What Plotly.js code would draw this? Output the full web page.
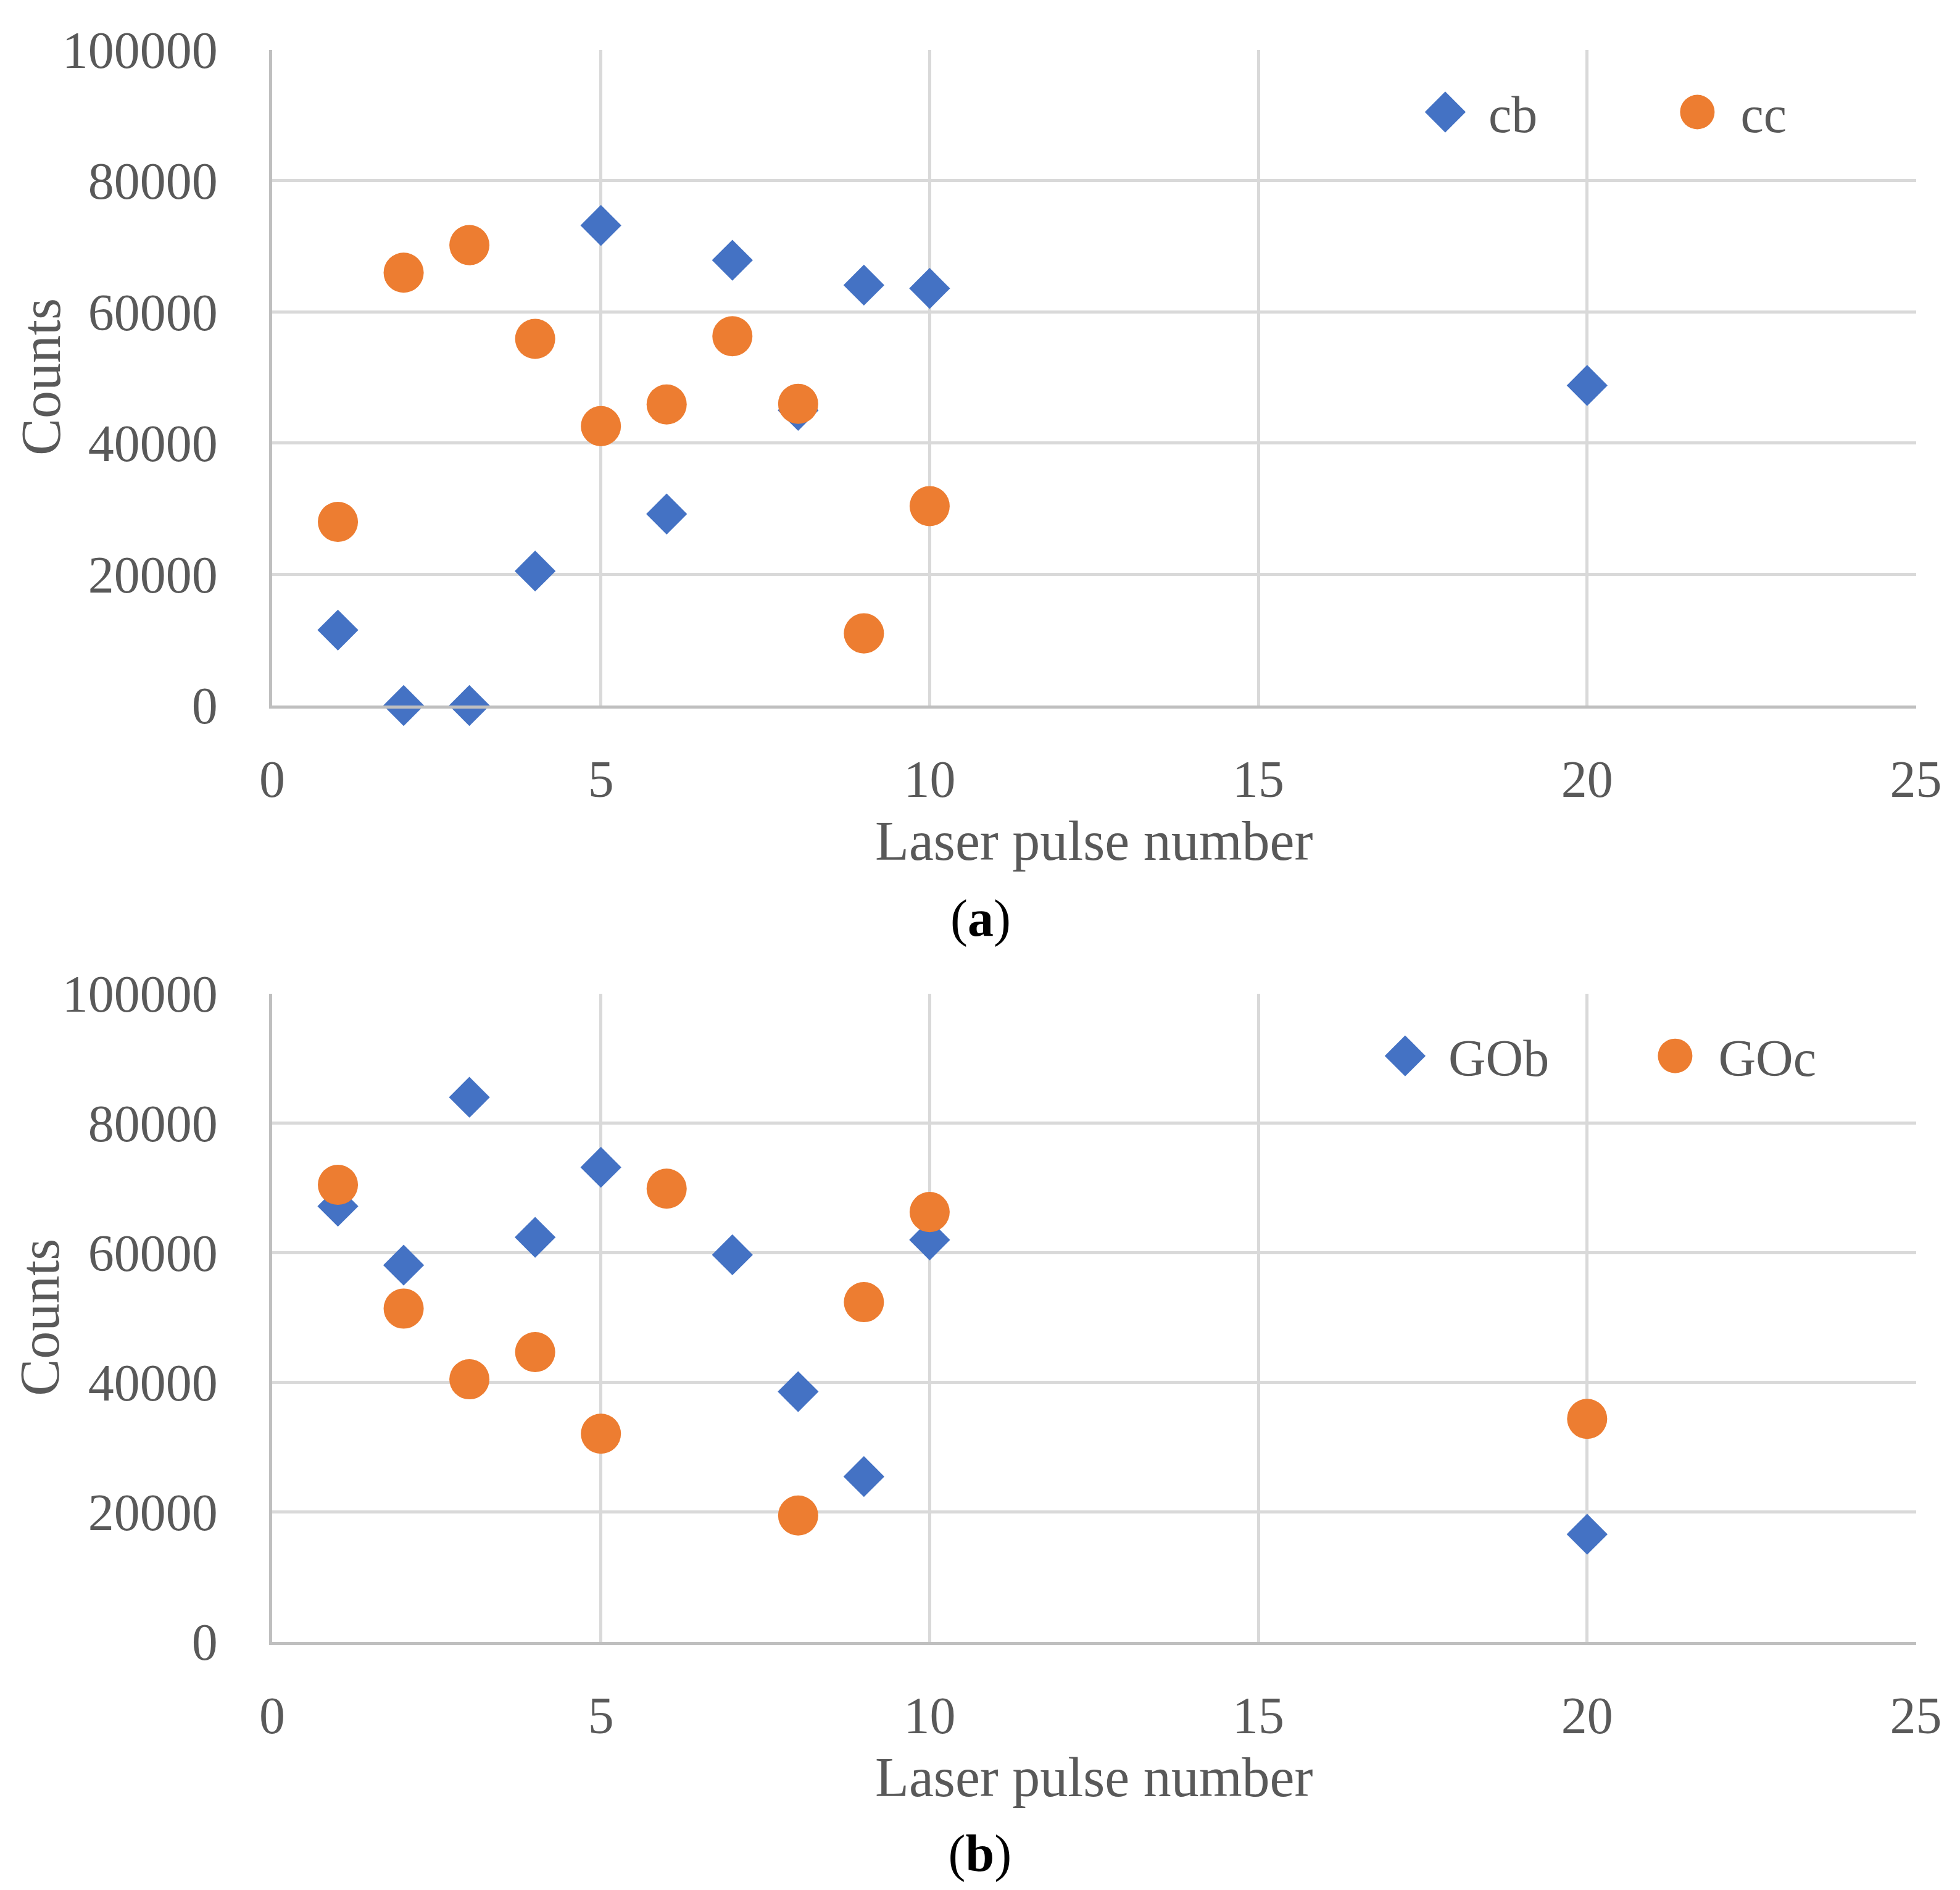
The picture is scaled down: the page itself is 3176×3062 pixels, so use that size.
<!DOCTYPE html>
<html>
<head>
<meta charset="utf-8">
<script src="https://cdn.plot.ly/plotly-3.0.1.min.js"></script>
<style>
  html, body { margin: 0; padding: 0; background: #ffffff; overflow: hidden; }
  #wrap { zoom: 3.5; }
</style>
</head>
<body>
<div id="wrap"><div id="chart"></div></div>
<script>
// ---- data ----
var pulsesB = [1, 2, 3, 4, 5, 6, 7, 8, 9, 10, 20];
var cb = [11500, 0, 0, 20500, 73200, 29200, 67900, 45000, 64100, 63600, 48800];
var pulsesC = [1, 2, 3, 4, 5, 6, 7, 8, 9, 10];
var cc = [28000, 66000, 70200, 55900, 42600, 45900, 56300, 46000, 11000, 30400];

var pulsesGOb = [1, 2, 3, 4, 5, 7, 8, 9, 10, 20];
var GOb = [67200, 58100, 84000, 62400, 73200, 59700, 38600, 25500, 62000, 16600];
var pulsesGOc = [1, 2, 3, 4, 5, 6, 8, 9, 10, 20];
var GOc = [70500, 51400, 40500, 44700, 32100, 69900, 19500, 52400, 66300, 34400];

var xTitle = 'Laser pulse number';
var yTitle = 'Counts';
var panelLabels = ['(<b>a</b>)', '(<b>b</b>)'];

// ---- styling ----
var Z = 3.5;
function S(v) { return v / Z; }
var W = 3176, H = 3062;
var FONT = 'Liberation Serif, Times New Roman, serif';
var GREY = '#595959';
var BLUE = '#4472C4', ORANGE = '#ED7D31';

function xAxis(anchor) {
  return {
    anchor: anchor, domain: [0, 1], range: [0, 25], dtick: 5, tick0: 0,
    showgrid: true, gridcolor: '#d9d9d9', gridwidth: S(5),
    showline: true, linecolor: '#bfbfbf', linewidth: S(5), zeroline: false,
    ticks: '', ticklabelstandoff: 12,
    tickfont: {family: FONT, size: S(84), color: GREY},
    title: {text: xTitle, font: {family: FONT, size: S(90), color: GREY}, standoff: 7},
    fixedrange: true
  };
}
function yAxis(anchor, domain) {
  return {
    anchor: anchor, domain: domain, range: [0, 100000], dtick: 20000, tick0: 0,
    tickformat: 'd',
    showgrid: true, gridcolor: '#d9d9d9', gridwidth: S(5),
    showline: true, linecolor: '#bfbfbf', linewidth: S(5), zeroline: false,
    ticks: '', ticklabelstandoff: 19,
    tickfont: {family: FONT, size: S(84), color: GREY},
    fixedrange: true
  };
}

var diamond = {symbol: 'diamond', size: S(51), color: BLUE, line: {width: 0}};
var circle = {symbol: 'circle', size: S(65), color: ORANGE, line: {width: 0}};

var traces = [
  {type: 'scatter', mode: 'markers', name: 'cb', x: pulsesB, y: cb, xaxis: 'x', yaxis: 'y',
   marker: diamond, cliponaxis: false, legend: 'legend'},
  {type: 'scatter', mode: 'markers', name: 'cc', x: pulsesC, y: cc, xaxis: 'x', yaxis: 'y',
   marker: circle, cliponaxis: false, legend: 'legend'},
  {type: 'scatter', mode: 'markers', name: 'GOb', x: pulsesGOb, y: GOb, xaxis: 'x2', yaxis: 'y2',
   marker: diamond, cliponaxis: false, legend: 'legend2'},
  {type: 'scatter', mode: 'markers', name: 'GOc', x: pulsesGOc, y: GOc, xaxis: 'x2', yaxis: 'y2',
   marker: circle, cliponaxis: false, legend: 'legend2'}
];

var legendFont = {family: FONT, size: S(84), color: GREY};
var titleFont = {family: FONT, size: S(90), color: GREY};
var labelFont = {family: FONT, size: S(84), color: '#000000'};
var layout = {
  width: S(W), height: S(H),
  margin: {l: S(440), r: S(71), t: S(82), b: S(404), pad: 0},
  paper_bgcolor: '#ffffff', plot_bgcolor: '#ffffff',
  font: {family: FONT, color: GREY},
  showlegend: true,
  xaxis: xAxis('y'),
  yaxis: yAxis('x', [0.5881, 1]),
  xaxis2: xAxis('y2'),
  yaxis2: yAxis('x2', [0, 0.4072]),
  legend: {orientation: 'h', x: 0.6874, y: 0.9603, xanchor: 'left', yanchor: 'middle',
           xref: 'paper', yref: 'paper', font: legendFont, bgcolor: 'rgba(0,0,0,0)',
           borderwidth: 0, entrywidth: S(251), entrywidthmode: 'pixels'},
  legend2: {orientation: 'h', x: 0.663, y: 0.3675, xanchor: 'left', yanchor: 'middle',
            xref: 'paper', yref: 'paper', font: legendFont, bgcolor: 'rgba(0,0,0,0)',
            borderwidth: 0, entrywidth: S(280), entrywidthmode: 'pixels'},
  annotations: [
    {text: yTitle, xref: 'paper', yref: 'paper', x: -0.1403, y: 0.7943, textangle: -90,
     xanchor: 'center', yanchor: 'middle', showarrow: false, font: titleFont},
    {text: yTitle, xref: 'paper', yref: 'paper', x: -0.1403, y: 0.2036, textangle: -90,
     xanchor: 'center', yanchor: 'middle', showarrow: false, font: titleFont},
    {text: panelLabels[0], xref: 'paper', yref: 'paper', x: 0.4308, y: 0.4542,
     xanchor: 'center', yanchor: 'middle', showarrow: false, font: labelFont},
    {text: panelLabels[1], xref: 'paper', yref: 'paper', x: 0.4308, y: -0.1335,
     xanchor: 'center', yanchor: 'middle', showarrow: false, font: labelFont}
  ]
};

Plotly.newPlot('chart', traces, layout, {staticPlot: true, displayModeBar: false});
</script>
</body>
</html>
